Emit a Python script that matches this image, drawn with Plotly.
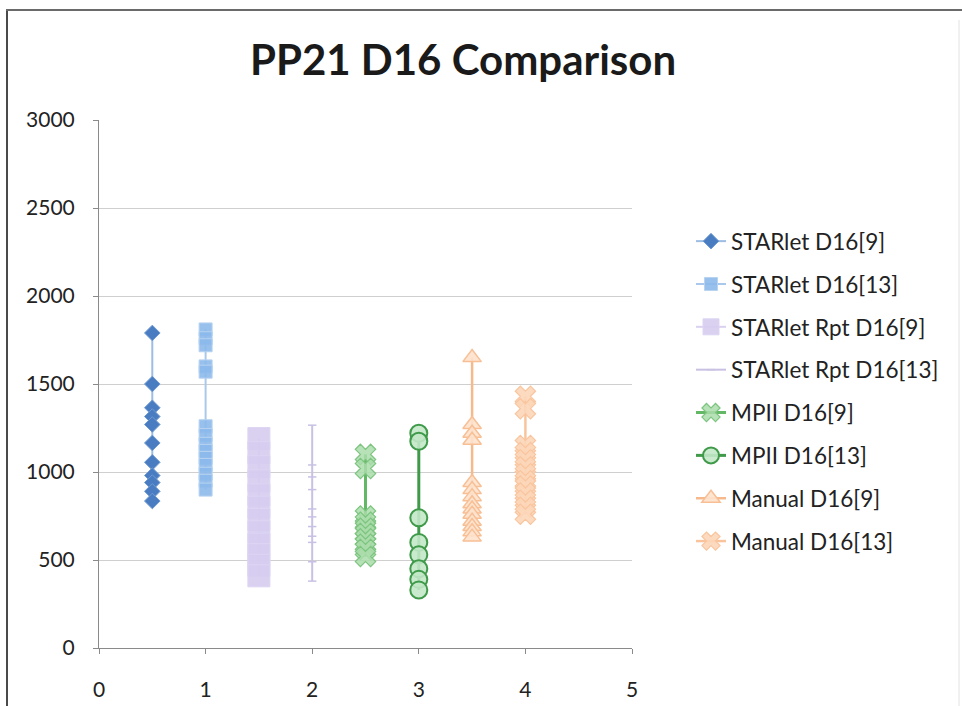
import plotly.graph_objects as go

# ---- data -------------------------------------------------------------
series_names = [
    "STARlet D16[9]", "STARlet D16[13]", "STARlet Rpt D16[9]", "STARlet Rpt D16[13]",
    "MPII D16[9]", "MPII D16[13]", "Manual D16[9]", "Manual D16[13]",
]
series_x = [0.5, 1.0, 1.5, 2.0, 2.5, 3.0, 3.5, 4.0]

starlet_d16_9 = [1790, 1500, 1365, 1315, 1270, 1165, 1055, 980, 940, 890, 835]
starlet_d16_13 = [1810, 1760, 1720, 1600, 1570, 1260, 1210, 1160, 1120, 1080, 1040, 990, 950, 900]
starlet_rpt_d16_9 = [1190, 1110, 1030, 950, 870, 800, 730, 660, 590, 530, 470, 410]
starlet_rpt_d16_13 = [1266, 1040, 972, 900, 790, 745, 690, 635, 600, 490, 380]
mpii_d16_9 = [1100, 1020, 750, 715, 680, 650, 620, 590, 560, 520]
mpii_d16_13 = [1220, 1175, 740, 600, 530, 450, 390, 330]
manual_d16_9 = [1650, 1270, 1220, 1180, 940, 900, 860, 820, 790, 760, 720, 690, 660, 630]
manual_d16_13 = [1430, 1360, 1150, 1110, 1070, 1030, 990, 950, 920, 880, 840, 800, 760]

series_values = [
    starlet_d16_9, starlet_d16_13, starlet_rpt_d16_9, starlet_rpt_d16_13,
    mpii_d16_9, mpii_d16_13, manual_d16_9, manual_d16_13,
]

y_ticks = [0, 500, 1000, 1500, 2000, 2500, 3000]
x_ticks = [0, 1, 2, 3, 4, 5]

# ---- styles -----------------------------------------------------------
styles = [
    dict(line=dict(color="#9dbde3", width=2),
         marker=dict(symbol="diamond", size=12, color="#4a7cc2",
                     line=dict(color="#6f9ad2", width=1))),
    dict(line=dict(color="#a9c8ec", width=2),
         marker=dict(symbol="square", size=13, color="rgba(140,185,235,0.9)",
                     line=dict(color="#b8d3f0", width=1))),
    dict(line=dict(color="#d9d1ef", width=2),
         marker=dict(symbol="square", size=22, color="rgba(214,204,240,0.9)",
                     line=dict(color="#ddd5f2", width=1))),
    dict(line=dict(color="#c9c1e4", width=2),
         marker=dict(symbol="line-ew", size=6, color="#c9c1e4",
                     line=dict(color="#c9c1e4", width=1.5))),
    dict(line=dict(color="#63b866", width=3),
         marker=dict(symbol="x", size=18, color="rgba(170,220,170,0.85)",
                     line=dict(color="#7cc47f", width=1.2))),
    dict(line=dict(color="#3f9a49", width=3),
         marker=dict(symbol="circle", size=17, color="rgba(195,232,200,0.9)",
                     line=dict(color="#3f9a49", width=2))),
    dict(line=dict(color="#f7b98c", width=2.5),
         marker=dict(symbol="triangle-up", size=16, color="rgba(253,226,205,0.9)",
                     line=dict(color="#f8bf95", width=1.5))),
    dict(line=dict(color="#f9c49c", width=2.5),
         marker=dict(symbol="x", size=18, color="rgba(252,214,185,0.9)",
                     line=dict(color="#f9c59e", width=1.2))),
]

fig = go.Figure()
for i, (name, xv, vals, st) in enumerate(zip(series_names, series_x, series_values, styles)):
    fig.add_trace(go.Scatter(
        x=[xv] * len(vals), y=vals, name=name, mode="lines+markers",
        line=st["line"], marker=st["marker"], legendgroup=f"g{i}",
    ))

# ---- layout -----------------------------------------------------------
W, H = 962, 706
L, R, T, B = 99, 330, 120, 58
pw, ph = W - L - R, H - T - B


def px_x(p):
    return (p - L) / pw


def px_y(p):
    return (H - B - p) / ph


font_family = "Lato, 'Open Sans', sans-serif"

fig.update_layout(
    width=W, height=H,
    margin=dict(l=L, r=R, t=T, b=B),
    paper_bgcolor="white", plot_bgcolor="white",
    font=dict(family=font_family, color="#222", size=21),
    title=dict(text="<b>PP21 D16 Comparison</b>", x=463 / W, xanchor="center",
               y=1 - 60 / H, yanchor="middle",
               font=dict(size=42, family=font_family, color="#1a1a1a")),
    showlegend=True,
    legend=dict(x=px_x(691), y=px_y(220), xanchor="left", yanchor="top",
                font=dict(size=22.5, family=font_family, color="#222"),
                tracegroupgap=10.6, bgcolor="rgba(0,0,0,0)"),
    xaxis=dict(range=[0, 5], tickvals=x_ticks, showgrid=False, zeroline=False,
               showline=True, linecolor="#8a8a8a", linewidth=1,
               ticks="outside", ticklen=5, tickcolor="#8a8a8a", automargin=False,
               ticklabelstandoff=18, tickfont=dict(size=21)),
    yaxis=dict(range=[0, 3000], tickvals=y_ticks, showgrid=True,
               gridcolor="#cfcfcf", gridwidth=1, zeroline=False,
               showline=True, linecolor="#8a8a8a", linewidth=1,
               ticks="outside", ticklen=5, tickcolor="#8a8a8a", automargin=False,
               ticklabelstandoff=14, tickfont=dict(size=21)),
    shapes=[
        dict(type="line", xref="paper", yref="paper", x0=px_x(7), x1=px_x(7),
             y0=px_y(9), y1=px_y(H + 5), line=dict(color="#4a4a4a", width=2)),
        dict(type="line", xref="paper", yref="paper", x0=px_x(6), x1=px_x(W + 5),
             y0=px_y(10), y1=px_y(10), line=dict(color="#6a6a6a", width=2)),
        dict(type="line", xref="paper", yref="paper", x0=px_x(959), x1=px_x(959),
             y0=px_y(20), y1=px_y(H + 5), line=dict(color="#e2e2e2", width=1)),
    ],
)

fig.write_html("out.html")
